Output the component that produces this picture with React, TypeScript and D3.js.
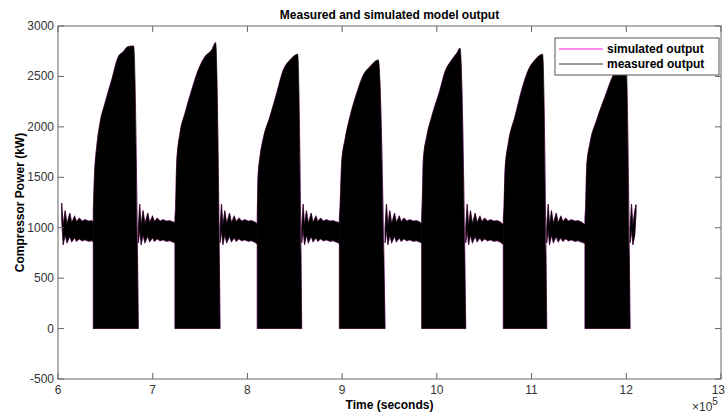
import React from 'react'
import * as d3 from 'd3'

// block (compressor on) periods, times in units of 1e5 s
const blockOff = [6.848, 7.711, 8.573, 9.453, 10.305, 11.16, 12.04]
const env1 = [[6.373, 1180], [6.383, 1475], [6.409, 1805], [6.443, 2036], [6.496, 2234], [6.567, 2465], [6.637, 2696], [6.69, 2745], [6.736, 2795], [6.799, 2802]]
const env2 = [[7.235, 1100], [7.242, 1211], [7.253, 1640], [7.288, 1937], [7.341, 2135], [7.412, 2366], [7.481, 2564], [7.552, 2696], [7.623, 2762], [7.665, 2835]]
const env3 = [[8.104, 1100], [8.112, 1508], [8.133, 1706], [8.168, 1888], [8.238, 2102], [8.309, 2333], [8.379, 2564], [8.45, 2663], [8.531, 2720]]
const env4 = [[8.971, 1100], [8.978, 1211], [8.995, 1642], [9.03, 1871], [9.083, 2102], [9.154, 2333], [9.224, 2515], [9.294, 2597], [9.382, 2663]]
const env5 = [[9.84, 1100], [9.847, 1300], [9.857, 1673], [9.893, 1904], [9.946, 2102], [10.033, 2366], [10.086, 2547], [10.157, 2663], [10.21, 2729], [10.245, 2779]]
const env6 = [[10.702, 1100], [10.709, 1211], [10.72, 1574], [10.755, 1841], [10.825, 2102], [10.896, 2366], [10.966, 2564], [11.036, 2663], [11.117, 2720]]
const env7 = [[11.564, 1100], [11.571, 1211], [11.582, 1607], [11.617, 1841], [11.688, 2069], [11.776, 2300], [11.864, 2515], [11.94, 2610], [11.997, 2660]]
const envelopes = [env1, env2, env3, env4, env5, env6, env7]

// idle periods (compressor cycling around 1000 kW)
const idleStart = [6.025, 6.848, 7.711, 8.573, 9.453, 10.305, 11.16, 12.04]
const idleEnd = [6.373, 7.235, 8.104, 8.971, 9.84, 10.702, 11.564, 12.103]
const idleEndHi = [1060, 1050, 1040, 1050, 1040, 1030, 1030, 1230]
const idleEndLo = [860, 850, 840, 845, 850, 835, 845, 1150]
// decaying oscillation after each block
const idleDt = [0, 0.015, 0.03, 0.05, 0.07, 0.1, 0.12, 0.15, 0.17, 0.2, 0.23, 0.26, 0.3, 0.33, 0.36, 0.4]
const idleHi = [1000, 1235, 1020, 1170, 1040, 1145, 1050, 1115, 1060, 1095, 1065, 1080, 1065, 1070, 1060, 1062]
const idleLo = [850, 980, 830, 930, 850, 915, 860, 900, 865, 890, 870, 880, 865, 872, 860, 865]

const xTicks = [6, 7, 8, 9, 10, 11, 12, 13]
const yTicks = [-500, 0, 500, 1000, 1500, 2000, 2500, 3000]

const W = 726
const H = 414
const left = 58
const right = 721
const top = 26
const bottom = 379
const font = 'Liberation Sans, Arial, sans-serif'
const axisColor = '#666'
const textColor = '#333'

export default function App() {
  const x = d3.scaleLinear().domain([6, 13]).range([left, right])
  const y = d3.scaleLinear().domain([-500, 3000]).range([bottom, top])

  const blockArea = d3
    .area<number[]>()
    .x((d) => x(d[0]))
    .y0(y(0))
    .y1((d) => y(d[1]))
    .curve(d3.curveMonotoneX)

  const bandArea = d3
    .area<{ t: number; hi: number; lo: number }>()
    .x((d) => x(d.t))
    .y0((d) => y(d.lo))
    .y1((d) => y(d.hi))

  const blocks = envelopes.map((env, i) => blockArea([...env, [blockOff[i], 0]]) || '')

  const bands = idleStart.map((s, i) => {
    const pts = idleDt
      .map((dt, j) => ({ t: s + dt, hi: idleHi[j], lo: idleLo[j] }))
      .filter((p) => p.t < idleEnd[i] - 0.01)
    if (i === 0) pts.splice(0, 2, { t: 6.039, hi: 1245, lo: 1080 })
    pts.push({ t: idleEnd[i], hi: idleEndHi[i], lo: idleEndLo[i] })
    return bandArea(pts) || ''
  })

  const tick = 6
  return (
    <svg width={W} height={H} style={{ position: 'absolute', left: 0, top: 0, background: '#fff' }}>
      <rect width={W} height={H} fill="#fff" />
      {/* simulated output (magenta), mostly hidden under measured */}
      <g fill="none" stroke="#d060c0" strokeWidth={1.1}>
        {blocks.map((d, i) => <path key={'sb' + i} d={d} />)}
        {bands.map((d, i) => <path key={'ss' + i} d={d} />)}
      </g>
      {/* measured output */}
      <g fill="#000" stroke="#000" strokeWidth={0.5}>
        {blocks.map((d, i) => <path key={'mb' + i} d={d} />)}
        {bands.map((d, i) => <path key={'ms' + i} d={d} />)}
      </g>

      {/* axes box */}
      <rect x={left} y={top} width={right - left} height={bottom - top} fill="none" stroke={axisColor} strokeWidth={1} />
      {xTicks.map((t) => (
        <g key={'x' + t}>
          <line x1={x(t)} x2={x(t)} y1={bottom} y2={bottom - tick} stroke={axisColor} />
          <line x1={x(t)} x2={x(t)} y1={top} y2={top + tick} stroke={axisColor} />
          <text
            x={t === 13 ? W - 1 : x(t)}
            y={394}
            textAnchor={t === 13 ? 'end' : 'middle'}
            fontFamily={font}
            fontSize={12}
            fill={textColor}
          >
            {t}
          </text>
        </g>
      ))}
      {yTicks.map((v) => (
        <g key={'y' + v}>
          <line x1={left} x2={left + tick} y1={y(v)} y2={y(v)} stroke={axisColor} />
          <line x1={right} x2={right - tick} y1={y(v)} y2={y(v)} stroke={axisColor} />
          <text x={54} y={y(v) + 4} textAnchor="end" fontFamily={font} fontSize={12} fill={textColor}>
            {v}
          </text>
        </g>
      ))}
      <text x={692} y={411} fontFamily={font} fontSize={12} fill={textColor}>
        ×10
        <tspan fontSize={10} dy={-6}>5</tspan>
      </text>

      <text x={(left + right) / 2} y={19} textAnchor="middle" fontFamily={font} fontSize={12} fontWeight="bold" fill="#000">
        Measured and simulated model output
      </text>
      <text x={(left + right) / 2} y={409} textAnchor="middle" fontFamily={font} fontSize={12} fontWeight="bold" fill="#000">
        Time (seconds)
      </text>
      <text
        transform={`translate(24,${(top + bottom) / 2}) rotate(-90)`}
        textAnchor="middle"
        fontFamily={font}
        fontSize={12}
        fontWeight="bold"
        fill="#000"
      >
        Compressor Power (kW)
      </text>

      {/* legend */}
      <rect x={555} y={38} width={164} height={37} fill="#fff" stroke="#555" strokeWidth={1} />
      <line x1={559} x2={603} y1={49} y2={49} stroke="#ff66e0" strokeWidth={1.5} />
      <line x1={559} x2={603} y1={64} y2={64} stroke="#333" strokeWidth={1} />
      <text x={607} y={53} fontFamily={font} fontSize={12} fontWeight="bold" fill="#000">
        simulated output
      </text>
      <text x={607} y={68} fontFamily={font} fontSize={12} fontWeight="bold" fill="#000">
        measured output
      </text>
    </svg>
  )
}
